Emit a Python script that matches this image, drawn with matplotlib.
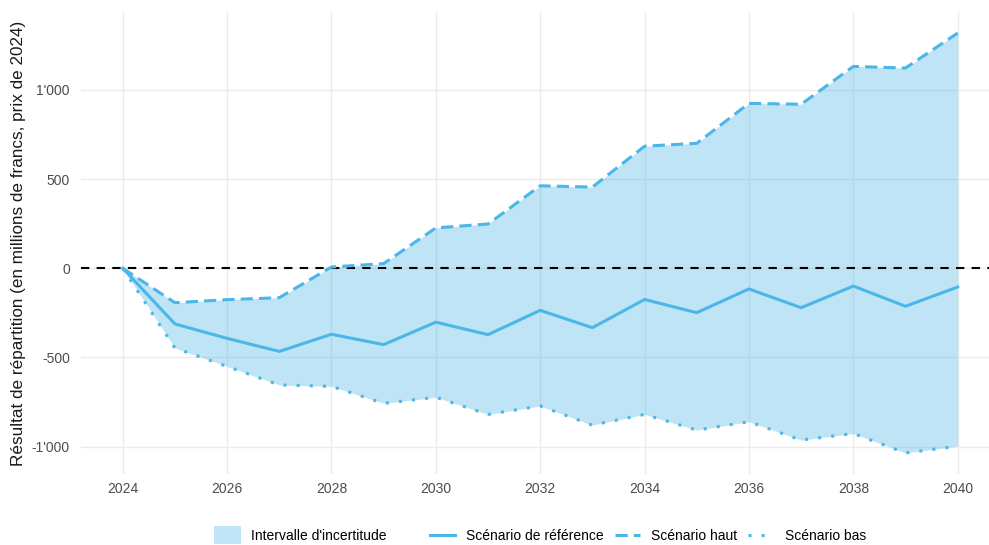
import matplotlib
matplotlib.use("Agg")
import matplotlib.pyplot as plt
from matplotlib.patches import Patch
from matplotlib.lines import Line2D
from matplotlib.ticker import FuncFormatter

# Données : résultat de répartition (en millions de francs, prix de 2024)
annees = list(range(2024, 2041))
scenario_reference = [0, -312, -393, -466, -370, -428, -302, -372, -236, -333,
                      -175, -249, -116, -221, -100, -213, -105]
scenario_haut = [0, -193, -176, -165, 7, 26, 226, 248, 462, 455,
                 684, 700, 924, 919, 1131, 1122, 1318]
scenario_bas = [0, -447, -550, -654, -662, -757, -723, -819, -772, -879,
                -819, -907, -860, -963, -926, -1035, -997]

x_ticks = [2024, 2026, 2028, 2030, 2032, 2034, 2036, 2038, 2040]
y_ticks = [-1000, -500, 0, 500, 1000]

bleu = "#4BB6E8"
gris_texte = "#4D4D4D"

plt.rcParams["font.family"] = ["Liberation Sans", "DejaVu Sans"]

fig = plt.figure(figsize=(9.89, 5.45), dpi=100)
W, H = 989, 545
ax = fig.add_axes([81 / W, (H - 474) / H, 908 / W, (474 - 12) / H])

ax.fill_between(annees, scenario_bas, scenario_haut, color=bleu, alpha=0.36,
                linewidth=0, zorder=2)
ax.axhline(0, color="black", linewidth=1.5, dashes=(4, 3.5), zorder=3)
ax.plot(annees, scenario_reference, color=bleu, linewidth=2.2, zorder=4,
        solid_joinstyle="round")
ax.plot(annees, scenario_haut, color=bleu, linewidth=2.2, dashes=(4, 2),
        zorder=4)
ax.plot(annees, scenario_bas, color=bleu, linewidth=2.2, dashes=(1, 3.3),
        zorder=4)

ax.set_xlim(2023.2, 2040.6)
ax.set_ylim(-1153, 1436)
ax.set_xticks(x_ticks)
ax.set_yticks(y_ticks)


def fmt_milliers(v, pos):
    s = f"{abs(int(round(v))):,}".replace(",", "'")
    return ("-" if v < 0 else "") + s


ax.yaxis.set_major_formatter(FuncFormatter(fmt_milliers))
ax.grid(True, color="#EBEBEB", linewidth=1.0, zorder=0)
ax.set_axisbelow(True)
for s in ax.spines.values():
    s.set_visible(False)
ax.tick_params(axis="both", length=0, labelsize=10, labelcolor=gris_texte)
ax.tick_params(axis="y", pad=8)
ax.tick_params(axis="x", pad=6)

ax.set_ylabel("Résultat de répartition (en millions de francs, prix de 2024)",
              fontsize=12.3, color="#1A1A1A", labelpad=4)

# Légende : intervalle à gauche, scénarios à droite
h_fill = [Patch(facecolor=bleu, alpha=0.36, edgecolor="none")]
leg1 = fig.legend(h_fill, ["Intervalle d'incertitude"], loc="center",
                  bbox_to_anchor=(300 / W, 1 - 535 / H), frameon=False,
                  fontsize=10, handlelength=2.0, handleheight=1.7,
                  handletextpad=0.7)
h_lines = [
    Line2D([], [], color=bleu, linewidth=2.2),
    Line2D([], [], color=bleu, linewidth=2.2, dashes=(4, 2)),
    Line2D([], [], color=bleu, linewidth=2.2, dashes=(1, 3.3)),
]
leg2 = fig.legend(h_lines, ["Scénario de référence", "Scénario haut",
                            "Scénario bas"],
                  loc="center", bbox_to_anchor=(648 / W, 1 - 536 / H),
                  ncol=3, frameon=False, fontsize=10, handlelength=1.8,
                  handletextpad=0.8, columnspacing=0.8)

fig.savefig("out.png", dpi=100)
